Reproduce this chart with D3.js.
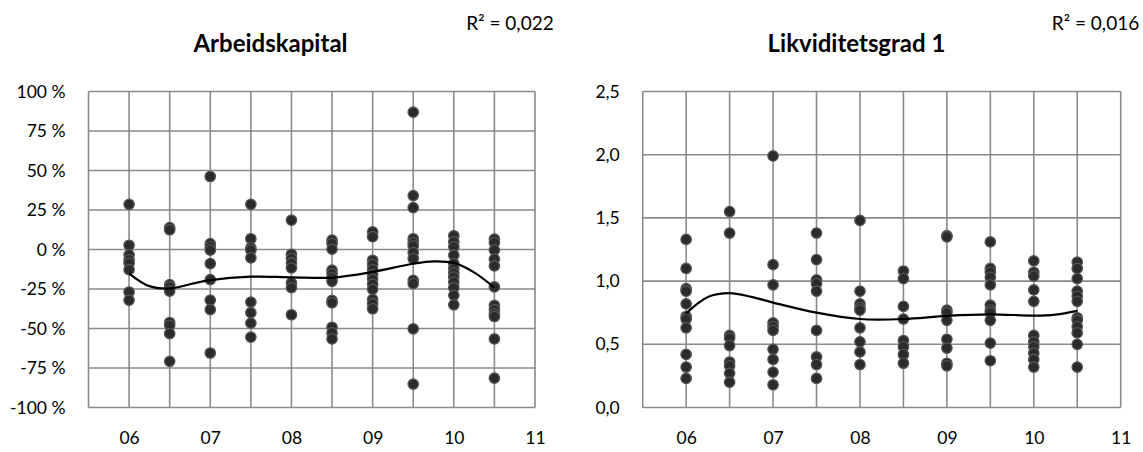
<!DOCTYPE html>
<html>
<head>
<meta charset="utf-8">
<script src="https://cdn.jsdelivr.net/npm/d3@7/dist/d3.min.js"></script>
<style>
  html, body { margin: 0; padding: 0; background: #fff; }
  svg { display: block; font-family: Lato, "Open Sans", sans-serif; }
</style>
</head>
<body>
<svg id="chart" width="1143" height="452"></svg>
<script>
// Half-year periods (06 = 2006, 06.5 = second half of 2006, ...)
const periods = [6, 6.5, 7, 7.5, 8, 8.5, 9, 9.5, 10, 10.5];
const xTickLabels = ["06", "07", "08", "09", "10", "11"];
const xTickValues = [6, 7, 8, 9, 10, 11];

// Arbeidskapital (%), one list of observations per period
const arbeidskapital = [
  [28.6, 2.7, -3.4, -6.5, -8.7, -12.8, -26.9, -32.1],
  [13.9, 12.5, -22.2, -23.7, -26.3, -46.2, -48.0, -53.2, -70.8],
  [46.2, 3.7, 1.7, -0.4, -8.9, -19.0, -32.1, -38.0, -65.5],
  [28.6, 6.8, 1.1, -0.4, -5.3, -33.3, -40.0, -46.6, -55.5],
  [18.6, -3.0, -5.7, -8.5, -11.7, -21.2, -24.2, -41.3],
  [5.9, 3.8, 0.2, -13.1, -15.3, -17.8, -20.1, -32.2, -33.7, -49.2, -52.8, -56.6],
  [11.2, 8.1, -6.8, -9.5, -12.7, -15.9, -18.9, -22.0, -25.2, -31.6, -34.3, -37.5],
  [86.9, 34.1, 26.5, 6.8, 4.4, 2.3, -1.9, -5.7, -19.5, -21.6, -50.2, -85.2],
  [8.7, 4.9, 1.7, -3.6, -8.9, -12.1, -14.8, -17.4, -20.6, -24.2, -29.0, -35.0],
  [6.6, 4.4, -0.4, -6.1, -10.4, -23.7, -35.4, -38.1, -40.7, -42.4, -56.6, -81.4]
];

// Likviditetsgrad 1, one list of observations per period
const likviditetsgrad = [
  [1.33, 1.10, 0.94, 0.92, 0.82, 0.72, 0.70, 0.63, 0.42, 0.32, 0.23],
  [1.55, 1.38, 0.57, 0.55, 0.49, 0.36, 0.33, 0.27, 0.20],
  [1.99, 1.13, 0.97, 0.67, 0.64, 0.61, 0.46, 0.38, 0.28, 0.18],
  [1.38, 1.17, 1.01, 0.98, 0.92, 0.61, 0.40, 0.34, 0.23],
  [1.48, 0.92, 0.82, 0.79, 0.77, 0.63, 0.52, 0.44, 0.34],
  [1.08, 1.02, 0.80, 0.70, 0.53, 0.48, 0.42, 0.35],
  [1.36, 1.35, 0.77, 0.75, 0.69, 0.54, 0.47, 0.35, 0.33],
  [1.31, 1.10, 1.07, 1.03, 0.97, 0.81, 0.77, 0.75, 0.69, 0.51, 0.37],
  [1.16, 1.07, 1.04, 0.93, 0.84, 0.57, 0.52, 0.48, 0.43, 0.38, 0.32],
  [1.15, 1.10, 1.02, 0.92, 0.88, 0.84, 0.71, 0.69, 0.64, 0.59, 0.50, 0.32]
];

// Polynomial trend lines, sampled along the period axis
const arbeidskapitalTrend = [
  [6, -15.2], [6.25, -23.2], [6.5, -24.7], [6.75, -22.0], [7, -19.4], [7.5, -17.2],
  [8, -17.6], [8.5, -17.8], [9, -14.2], [9.5, -9.0], [9.75, -7.5], [10, -8.5],
  [10.25, -14.5], [10.5, -24.2]
];
const likviditetsgradTrend = [
  [6, 0.745], [6.25, 0.875], [6.5, 0.905], [6.75, 0.875], [7, 0.83], [7.5, 0.75],
  [8, 0.70], [8.5, 0.70], [9, 0.725], [9.5, 0.737], [10, 0.727], [10.25, 0.735],
  [10.5, 0.765]
];

const arbeidskapitalYTicks = [-100, -75, -50, -25, 0, 25, 50, 75, 100];
const likviditetsgradYTicks = [0, 0.5, 1, 1.5, 2, 2.5];

const svg = d3.select("#chart");
const gridColor = "#8a8a8a";
const labelSize = 17.5;

function drawPanel(opt) {
  const g = svg.append("g");
  const x = d3.scaleLinear().domain([5.5, 11]).range([opt.left, opt.right]);
  const y = d3.scaleLinear().domain(opt.yDomain).range([opt.bottom, opt.top]);

  // vertical gridlines every half year
  const xGrid = d3.range(5.5, 11.01, 0.5);
  g.append("g").selectAll("line").data(xGrid).join("line")
    .attr("x1", d => x(d)).attr("x2", d => x(d))
    .attr("y1", opt.top).attr("y2", opt.bottom)
    .attr("stroke", gridColor).attr("stroke-width", 1.6);

  // horizontal gridlines
  g.append("g").selectAll("line").data(opt.yTicks).join("line")
    .attr("x1", opt.left).attr("x2", opt.right)
    .attr("y1", d => y(d)).attr("y2", d => y(d))
    .attr("stroke", gridColor).attr("stroke-width", 1.6);

  // y axis labels
  const yAxis = d3.axisLeft(y).tickValues(opt.yTicks).tickFormat(opt.yFormat).tickSize(0).tickPadding(23);
  g.append("g").attr("transform", `translate(${opt.left},0)`).call(yAxis)
    .call(a => a.select(".domain").remove())
    .selectAll("text").attr("font-size", labelSize).attr("fill", "#000")
    .attr("font-family", "Lato, 'Open Sans', sans-serif");

  // x axis labels
  const xAxis = d3.axisBottom(x).tickValues(xTickValues)
    .tickFormat((d, i) => xTickLabels[i]).tickSize(0).tickPadding(24);
  g.append("g").attr("transform", `translate(0,${opt.bottom})`).call(xAxis)
    .call(a => a.select(".domain").remove())
    .selectAll("text").attr("font-size", labelSize).attr("fill", "#000")
    .attr("font-family", "Lato, 'Open Sans', sans-serif");

  // scatter points
  const pts = [];
  periods.forEach((p, i) => opt.values[i].forEach(v => pts.push([p, v])));
  g.append("g").selectAll("circle").data(pts).join("circle")
    .attr("cx", d => x(d[0])).attr("cy", d => y(d[1])).attr("r", 5.2)
    .attr("fill", "#2b2b2b").attr("stroke", "#555").attr("stroke-width", 1.3);

  // trend line
  const line = d3.line().x(d => x(d[0])).y(d => y(d[1])).curve(d3.curveCatmullRom.alpha(0.5));
  g.append("path").datum(opt.trend).attr("d", line)
    .attr("fill", "none").attr("stroke", "#000").attr("stroke-width", 2.2);

  // titles
  g.append("text").attr("x", opt.titleX).attr("y", 52).attr("text-anchor", "middle")
    .attr("font-size", 24).attr("font-weight", "bold").text(opt.title);
  g.append("text").attr("x", opt.r2X).attr("y", 30).attr("text-anchor", "middle")
    .attr("font-size", 19).text(opt.r2);
}

drawPanel({
  left: 88.5, right: 535, top: 91.5, bottom: 407.5,
  yDomain: [-100, 100], yTicks: arbeidskapitalYTicks,
  yFormat: d => d + " %",
  values: arbeidskapital, trend: arbeidskapitalTrend,
  title: "Arbeidskapital", titleX: 270.5,
  r2: "R² = 0,022", r2X: 510
});

drawPanel({
  left: 642.7, right: 1120.7, top: 91.5, bottom: 407.5,
  yDomain: [0, 2.5], yTicks: likviditetsgradYTicks,
  yFormat: d => d3.format(".1f")(d).replace(".", ","),
  values: likviditetsgrad, trend: likviditetsgradTrend,
  title: "Likviditetsgrad 1", titleX: 856.5,
  r2: "R² = 0,016", r2X: 1095.5
});
</script>
</body>
</html>
